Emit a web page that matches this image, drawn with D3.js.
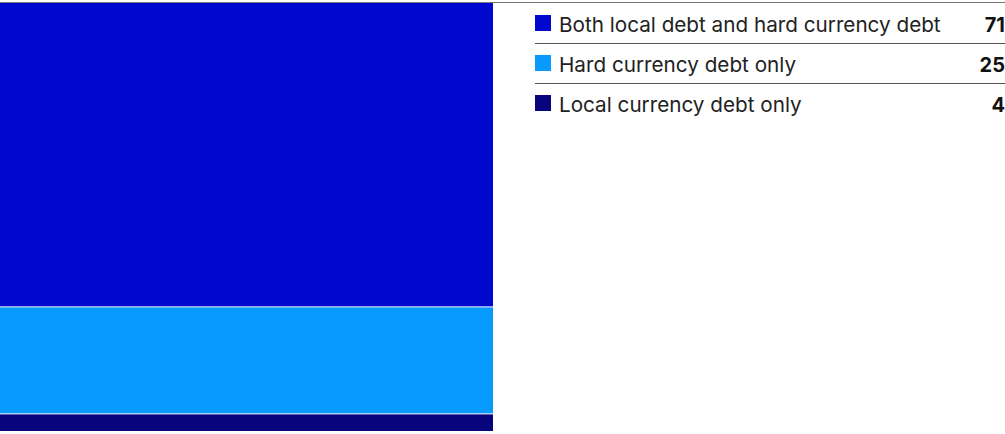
<!DOCTYPE html>
<html><head><meta charset="utf-8">
<script src="https://cdn.jsdelivr.net/npm/d3@7"></script>
<style>html,body{margin:0;padding:0;background:#fff;}svg{display:block;}</style>
</head><body>
<svg id="c" width="1005" height="434"></svg>
<script>
const categories = ["Both local debt and hard currency debt", "Hard currency debt only", "Local currency debt only"];
const values = [71, 25, 4];
const colors = ["#0007CE", "#079BFF", "#07047E"];

const W = 1005, H = 434;
const svg = d3.select("#c");
const barX0 = 0, barX1 = 493, barTop = 3, barBottom = 431;

const total = d3.sum(values);
const y = d3.scaleLinear().domain([0, total]).range([barTop, barBottom]);
let cum = 0;
const segs = values.map((v, i) => { const s = {v, i, y0: cum, y1: cum + v}; cum += v; return s; });

svg.selectAll("rect.seg").data(segs).enter().append("rect")
  .attr("class", "seg")
  .attr("x", barX0).attr("width", barX1 - barX0)
  .attr("y", d => y(d.y0) + (d.i > 0 ? 0.5 : 0))
  .attr("height", d => y(d.y1) - y(d.y0) - (d.i > 0 ? 0.5 : 0) - (d.i < segs.length - 1 ? 0.5 : 0))
  .attr("fill", d => colors[d.i]);

// top rule
svg.append("line").attr("x1", 0).attr("x2", W).attr("y1", 2.5).attr("y2", 2.5)
  .attr("stroke", "#777").attr("stroke-width", 1);

// legend table
const lx = 535, rowH = 40, ly0 = 3;
const rows = svg.selectAll("g.row").data(categories).enter().append("g")
  .attr("class", "row").attr("transform", (d, i) => `translate(${lx},${ly0 + i * rowH})`);
rows.append("rect").attr("x", 0).attr("y", 12).attr("width", 16).attr("height", 16)
  .attr("fill", (d, i) => colors[i]);
rows.append("text").attr("x", 24).attr("y", 28.5)
  .attr("font-family", "Inter, sans-serif").attr("font-size", 20.7).attr("fill", "#222")
  .text(d => d);
rows.append("text").attr("x", W - lx).attr("y", 28.5).attr("text-anchor", "end")
  .attr("font-family", "Inter, sans-serif").attr("font-size", 20).attr("font-weight", 700).attr("fill", "#111")
  .text((d, i) => values[i]);
rows.filter((d, i) => i < categories.length - 1).append("line")
  .attr("x1", 0).attr("x2", W - lx).attr("y1", rowH + 0.5).attr("y2", rowH + 0.5)
  .attr("stroke", "#555").attr("stroke-width", 1);
</script>
</body></html>
